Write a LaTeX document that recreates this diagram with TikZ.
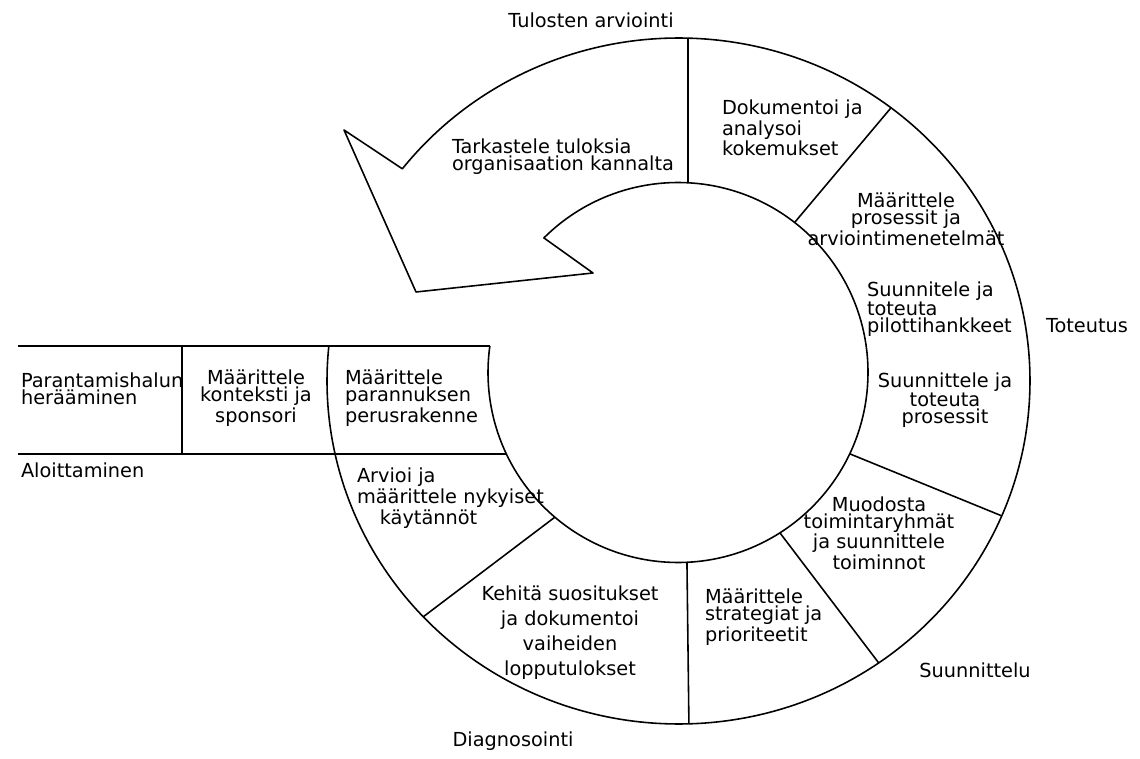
\documentclass[tikz,border=0pt]{standalone}
\usepackage{fontspec}
\setmainfont{DejaVu Sans}
\usetikzlibrary{calc}
\begin{document}
\begin{tikzpicture}[x=0.02cm,y=0.02cm,
  line width=0.9pt, line join=round,
  lbl/.style={inner sep=0pt, outer sep=0pt, font=\fontsize{11}{9.8}\selectfont},
  lblc/.style={lbl, align=center},
  lbll/.style={lbl, align=left, anchor=west}]
\useasboundingbox (0,0) rectangle (1140,758);
\fill[white] (0,0) rectangle (1140,758);

% centres of the outer ellipse and the inner circle
\coordinate (O) at (678.5,377);
\coordinate (I) at (678,385.5);

% points on the outer ellipse
\coordinate (oA) at ($(O)+(88.45:351.5 and 343)$);
\coordinate (oB) at ($(O)+(52.8:351.5 and 343)$);
\coordinate (oC) at ($(O)+(-23.15:351.5 and 343)$);
\coordinate (oD) at ($(O)+(-55.28:351.5 and 343)$);
\coordinate (oE) at ($(O)+(-88.3:351.5 and 343)$);
\coordinate (oF) at ($(O)+(223.43:351.5 and 343)$);

% points on the inner circle
\coordinate (iA) at ($(I)+(86.98:190)$);
\coordinate (iB) at ($(I)+(52.14:190)$);
\coordinate (iC) at ($(I)+(-25.34:190)$);
\coordinate (iD) at ($(I)+(-57.56:190)$);
\coordinate (iE) at ($(I)+(-87.3:190)$);
\coordinate (iF) at ($(I)+(229.6:190)$);
\coordinate (iG) at ($(I)+(205.4:190)$);
\coordinate (iH) at ($(I)+(171.98:190)$);
\coordinate (iN) at ($(I)+(134.9:190)$);

% arrow head corners
\coordinate (tip) at (344,628);
\coordinate (aBL) at (416,466);
\coordinate (aBR) at (593,485);

% entry strip
\coordinate (tTL) at (18,412);
\coordinate (tBL) at (18,304);
\coordinate (dT) at (182,412);
\coordinate (dB) at (182,304);

% returning arrow
\draw (oA) arc[start angle=88.45, end angle=141.78, x radius=351.5, y radius=343]
  -- (tip) -- (aBL) -- (aBR) -- (iN)
  arc[start angle=134.9, end angle=86.98, radius=190];

% ring
\draw (oA) arc[start angle=88.45, end angle=-185.86, x radius=351.5, y radius=343];
\draw (iA) arc[start angle=86.98, end angle=-188.02, radius=190];
\foreach \p in {A,B,C,D,E,F} \draw (o\p) -- (i\p);

% entry strip
\draw (tTL) -- (iH);
\draw (tBL) -- (iG);

% phase names
\node[lbl] (ph1) at (591,738) {Tulosten arviointi};
\node[lbl] (ph2) at (1087,432) {Toteutus};
\node[lbl] (ph3) at (975,88) {Suunnittelu};
\node[lbl] (ph4) at (513,17) {Diagnosointi};
\node[lbl, anchor=west] (ph5) at (21,288) {Aloittaminen};

% step texts
\node[lbll] (s1) at (452,601) {Tarkastele tuloksia\\organisaation kannalta};
\node[lbll] (s2) at (722,630) {Dokumentoi ja\\analysoi\\kokemukset};
\node[lblc] (s3) at (906,539) {Määrittele\\prosessit ja\\arviointimenetelmät};
\node[lbll] (s4) at (867,449) {Suunnitele ja\\toteuta\\pilottihankkeet};
\node[lblc] (s5) at (945,358) {Suunnittele ja\\toteuta\\prosessit};
\node[lblc] (s6) at (879,225) {Muodosta\\toimintaryhmät\\ja suunnittele\\toiminnot};
\node[lbll] (s7) at (705,141) {Määrittele\\strategiat ja\\prioriteetit};
\node[lblc, font=\fontsize{11}{14.2}\selectfont] (s8) at (570,125) {Kehitä suositukset\\ja dokumentoi\\vaiheiden\\lopputulokset};
\node[lbll, font=\fontsize{11}{11.9}\selectfont] (s9) at (357,260) {Arvioi ja\\määrittele nykyiset\\\hspace*{13pt}käytännöt};
\node[lbll] (s10) at (345,360) {Määrittele\\parannuksen\\perusrakenne};
\node[lblc] (s11) at (256,360) {Määrittele\\konteksti ja\\sponsori};
\node[lbll] (s12) at (21,369) {Parantamishalun\\herääminen};

% strip divider drawn over the end of the first label
\fill[white] ($(dT)+(0.5,-55)$) rectangle ($(dT)+(8,-25)$);
\draw (dT) -- (dB);
\end{tikzpicture}
\end{document}
